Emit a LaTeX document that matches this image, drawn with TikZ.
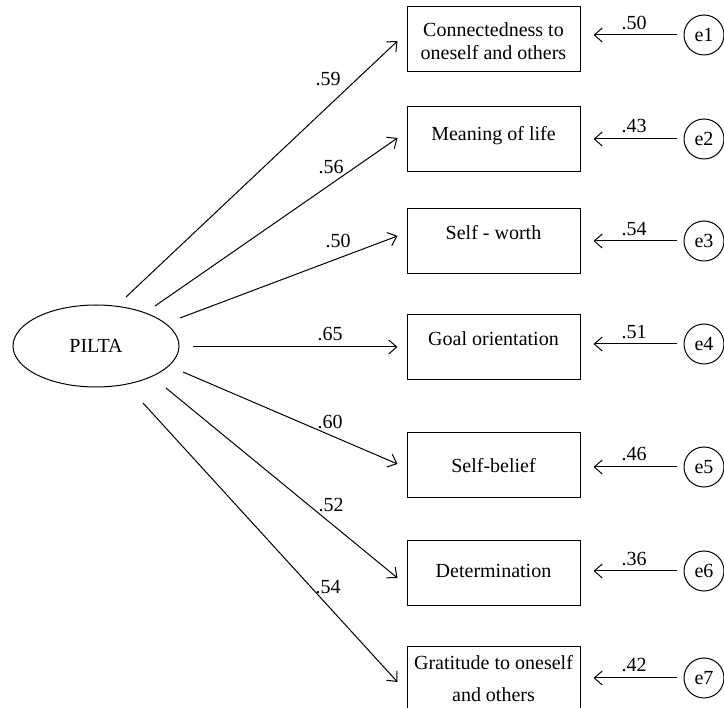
\documentclass[tikz,border=0pt]{standalone}
\usepackage{fontspec}
\setmainfont{Liberation Serif}
\usetikzlibrary{shapes.geometric,arrows.meta}
\tikzset{
  every node/.style={font=\fontsize{20}{23}\selectfont, inner sep=0pt},
  obsbox/.style={draw, line width=1pt, minimum width=173pt, minimum height=65pt},
  boxtext/.style={align=center, text height=0.7em, text depth=0.22em},
  boxtwo/.style={align=center},
  errc/.style={draw, circle, line width=1pt, minimum size=40pt},
  latent/.style={draw, ellipse, line width=1pt, minimum width=166pt, minimum height=82pt},
  coef/.style={text height=0.7em, text depth=0.1em},
  arr/.style={line width=1pt, -{Straight Barb[length=8pt,width=14pt,line width=1pt]}},
}
\begin{document}
\begin{tikzpicture}[x=1pt,y=-1pt]
\useasboundingbox (0,0) rectangle (724,708);
% latent
\node[latent] (p) at (96,346) {PILTA};
% boxes
\node[obsbox] (b1) at (493.5,39.5) {};
\node[obsbox] (b2) at (493.5,139.5) {};
\node[obsbox] (b3) at (493.5,241.5) {};
\node[obsbox] (b4) at (493.5,347) {};
\node[obsbox] (b5) at (493.5,465.5) {};
\node[obsbox] (b6) at (493.5,573) {};
\node[obsbox] (b7) at (493.5,679.5) {};
% box texts
\node[boxtwo] (t1) at (493.5,41.5) {Connectedness to\\oneself and others};
\node[boxtext] (t2) at (493.5,138) {Meaning of life};
\node[boxtext] (t3) at (493.5,237) {Self - worth};
\node[boxtext] (t4) at (493.5,343) {Goal orientation};
\node[boxtext] (t5) at (493.5,470) {Self-belief};
\node[boxtext] (t6) at (493.5,575) {Determination};
\node[boxtwo, font=\fontsize{20}{32}\selectfont] (t7) at (493.5,679) {Gratitude to oneself\\and others};
% error circles
\node[errc] (e1) at (704,35) {e1};
\node[errc] (e2) at (704,139) {e2};
\node[errc] (e3) at (704,241) {e3};
\node[errc] (e4) at (704,344) {e4};
\node[errc] (e5) at (704,467) {e5};
\node[errc] (e6) at (704,571) {e6};
\node[errc] (e7) at (704,678) {e7};
% error arrows
\foreach \i in {1,...,7}{
  \draw[arr, shorten <=7pt, shorten >=13pt] (e\i.west) -- (e\i.west -| b\i.east);
}
\node[coef] (r1) at (634,27) {.50};
\node[coef] (r2) at (634,130) {.43};
\node[coef] (r3) at (634,233) {.54};
\node[coef] (r4) at (634,336) {.51};
\node[coef] (r5) at (634,458) {.46};
\node[coef] (r6) at (634,563) {.36};
\node[coef] (r7) at (634,669) {.42};
% start points near the ellipse
\coordinate (s1) at (126,297);
\coordinate (s2) at (155,306);
\coordinate (s3) at (180,318);
\coordinate (s4) at (193,347);
\coordinate (s5) at (183,372);
\coordinate (s6) at (166,388);
\coordinate (s7) at (143,403);
% loadings
\draw[arr] (s1) -- ([xshift=-9pt,yshift=-1.5pt]b1.west);
\draw[arr] (s2) -- ([xshift=-9pt,yshift=1.5pt]b2.west);
\draw[arr] (s3) -- ([xshift=-9pt,yshift=5.5pt]b3.west);
\draw[arr] (s4) -- ([xshift=-9pt]b4.west);
\draw[arr] (s5) -- ([xshift=-9pt,yshift=1.5pt]b5.west);
\draw[arr] (s6) -- ([xshift=-9pt,yshift=-5pt]b6.west);
\draw[arr] (s7) -- ([xshift=-9pt,yshift=-2.5pt]b7.west);
\node[coef] (l1) at (328,83) {.59};
\node[coef] (l2) at (331,171) {.56};
\node[coef] (l3) at (338,245) {.50};
\node[coef] (l4) at (330,338) {.65};
\node[coef] (l5) at (330,426) {.60};
\node[coef] (l6) at (331,509) {.52};
\node[coef] (l7) at (328,591) {.54};
\end{tikzpicture}
\end{document}
